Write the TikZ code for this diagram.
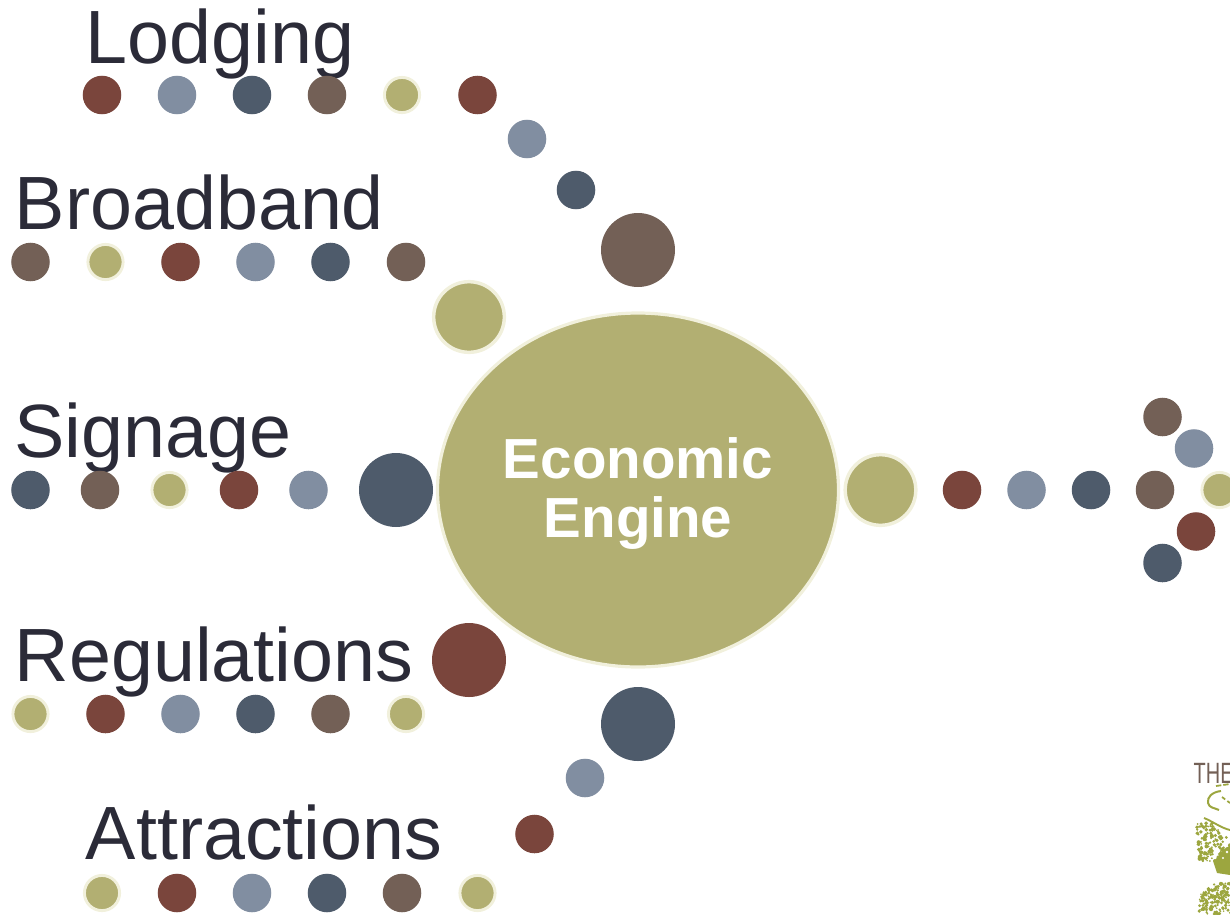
\documentclass[tikz,border=0pt]{standalone}
\usepackage{fontspec}
\setmainfont{Liberation Sans}
\definecolor{cred}{HTML}{7A453C}
\definecolor{cblue}{HTML}{818EA1}
\definecolor{cnavy}{HTML}{4E5B6B}
\definecolor{cbrown}{HTML}{736056}
\definecolor{colive}{HTML}{B2AF72}
\definecolor{cring}{HTML}{F1F0DC}
\definecolor{ink}{HTML}{2B2B38}
\definecolor{leaf}{HTML}{9CA63F}
\begin{document}
\begin{tikzpicture}[x=0.75pt,y=-0.75pt,
  dot/.style={circle,inner sep=0pt,minimum size=28.9pt,fill=#1},
  ring/.style={circle,inner sep=0pt,minimum size=26.4pt,fill=colive,draw=cring,line width=2.2pt},
  big/.style={circle,inner sep=0pt,minimum size=55.5pt,fill=#1},
  bigring/.style={circle,inner sep=0pt,minimum size=53pt,fill=colive,draw=cring,line width=2.6pt},
  lab/.style={anchor=base west,inner sep=0pt,text=ink,font=\fontsize{56.6}{60}\selectfont}]
\useasboundingbox (0,0) rectangle (1230,914);
% labels
\node[lab] (tl) at (85.5,63) {Lodging};
\node[lab] (tb) at (14.5,229) {Broadband};
\node[lab] (ts) at (14,457) {Signage};
\node[lab] (tr) at (14.5,681) {Regulations};
\node[lab] (ta) at (85.5,859) {Attractions};
% lodging row
\node[dot=cred] (l1) at (102,95) {};
\node[dot=cblue] (l2) at (177,95) {};
\node[dot=cnavy] (l3) at (252,95) {};
\node[dot=cbrown] (l4) at (327,95) {};
\node[ring] (l5) at (402,95) {};
\node[dot=cred] (l6) at (477.5,95) {};
\node[dot=cblue] (l7) at (527,139) {};
\node[dot=cnavy] (l8) at (576,190) {};
\node[big=cbrown] (l9) at (638,250) {};
% broadband row
\node[dot=cbrown] (b1) at (30.5,262) {};
\node[ring] (b2) at (105.5,262) {};
\node[dot=cred] (b3) at (180.5,262) {};
\node[dot=cblue] (b4) at (255.5,262) {};
\node[dot=cnavy] (b5) at (330.5,262) {};
\node[dot=cbrown] (b6) at (406,262) {};
\node[bigring] (b7) at (469,317) {};
% signage row
\node[dot=cnavy] (s1) at (30.5,490) {};
\node[dot=cbrown] (s2) at (100,490) {};
\node[ring] (s3) at (169.5,490) {};
\node[dot=cred] (s4) at (239,490) {};
\node[dot=cblue] (s5) at (308.5,490) {};
\node[big=cnavy] (s6) at (396,490) {};
% regulations row
\node[ring] (r1) at (30.5,714) {};
\node[dot=cred] (r2) at (105.5,714) {};
\node[dot=cblue] (r3) at (180.5,714) {};
\node[dot=cnavy] (r4) at (255.5,714) {};
\node[dot=cbrown] (r5) at (330.5,714) {};
\node[ring] (r6) at (406,714) {};
\node[big=cred] (r7) at (469,660) {};
% attractions row
\node[ring] (a1) at (102,893) {};
\node[dot=cred] (a2) at (177,893) {};
\node[dot=cblue] (a3) at (252,893) {};
\node[dot=cnavy] (a4) at (327,893) {};
\node[dot=cbrown] (a5) at (402,893) {};
\node[ring] (a6) at (477.5,893) {};
\node[dot=cred] (a7) at (534.5,834) {};
\node[dot=cblue] (a8) at (585,778) {};
\node[big=cnavy] (a9) at (638,724) {};
% centre
\draw[fill=colive,draw=cring,line width=2.4pt] (638,490) ellipse [x radius=200.5,y radius=177];
\node[inner sep=0pt,align=center,text=white,font=\fontsize{42.4}{44.5}\selectfont\bfseries] (eng) at (638,493.5) {Economic\\Engine};
% right arm
\node[bigring] (o1) at (880.5,490) {};
\node[dot=cred] (o2) at (962,490) {};
\node[dot=cblue] (o3) at (1026.5,490) {};
\node[dot=cnavy] (o4) at (1091,490) {};
\node[dot=cbrown] (o5) at (1155,490) {};
\node[ring] (o6) at (1219.5,490) {};
\node[dot=cbrown] (u1) at (1162.5,417) {};
\node[dot=cblue] (u2) at (1194,448.5) {};
\node[dot=cred] (d1) at (1196,531.5) {};
\node[dot=cnavy] (d2) at (1162.5,563) {};
% logo fragment
\begin{scope}
\clip (1190,750) rectangle (1230,914);
\node[anchor=base west,inner sep=0pt,text=cbrown,font=\fontsize{22}{22}\selectfont,xscale=0.68] (logo) at (1193.5,783) {THE};
\draw[leaf,line width=1.5pt] (1221,791) .. controls (1212,792) and (1207,797) .. (1208,803) .. controls (1209,808) and (1215,808) .. (1219,810);
\draw[leaf,line width=1.3pt,dash pattern=on 4pt off 1.5pt] (1216,786) -- (1230,784);
\draw[leaf,line width=1.3pt,dash pattern=on 3pt off 2pt] (1222,797) -- (1230,803);
\draw[leaf,line width=1.4pt] (1204,818) .. controls (1212,821) and (1221,828) .. (1230,830);
\pgfmathsetseed{7}
\foreach \i in {1,...,150}{
  \pgfmathsetmacro{\px}{1197+33*rnd}
  \pgfmathsetmacro{\py}{822+40*rnd}
  \pgfmathsetmacro{\pr}{0.8+1.3*rnd}
  \pgfmathparse{(\py-822)>(1.0*abs(\px-1203)-8)?1:0}
  \ifnum\pgfmathresult=1 \fill[leaf] (\px,\py) circle [radius=\pr]; \fi
}
\fill[leaf] (1213,861) .. controls (1219,858) and (1222,848) .. (1230,846) -- (1230,875) -- (1217,873) -- cycle;
\fill[white] (1223,858) circle [radius=1.2] (1227,852) circle [radius=1.4];
\foreach \i in {1,...,170}{
  \pgfmathsetmacro{\px}{1199+31*rnd}
  \pgfmathsetmacro{\py}{883+31*rnd}
  \pgfmathsetmacro{\pr}{0.8+1.3*rnd}
  \pgfmathparse{(\py-883)>(0.8*(1230-\px)-12)?1:0}
  \ifnum\pgfmathresult=1 \fill[leaf] (\px,\py) circle [radius=\pr]; \fi
}
\end{scope}
\end{tikzpicture}
\end{document}
